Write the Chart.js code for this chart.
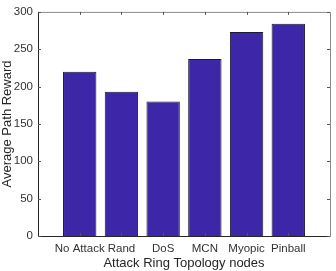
<!DOCTYPE html>
<html><head><meta charset="utf-8">
<script src="https://cdn.jsdelivr.net/npm/chart.js@4/dist/chart.umd.min.js"></script>
<style>html,body{margin:0;padding:0;background:#fff}#wrap{width:336px;height:271px}</style>
</head><body><div id="wrap"><canvas id="c" width="336" height="271"></canvas></div>
<script>
const categories = ['No Attack', 'Rand', 'DoS', 'MCN', 'Myopic', 'Pinball'];
const rewards = [220, 193, 180, 237, 273, 284];
const yTicks = [0, 50, 100, 150, 200, 250, 300];
const xTitle = 'Attack Ring Topology nodes';
const yTitle = 'Average Path Reward';

const FONT = 'Liberation Sans, Arial, Helvetica, sans-serif';
const boxPlugin = {
  id: 'box',
  afterDatasetsDraw(chart) {
    const {ctx, chartArea: a, scales: {x, y}} = chart;
    ctx.save();
    ctx.lineWidth = 1;
    ctx.strokeStyle = '#8a8a8a';
    ctx.beginPath();
    ctx.moveTo(a.left, a.top + 0.5); ctx.lineTo(a.right + 0.5, a.top + 0.5); ctx.lineTo(a.right + 0.5, a.bottom);
    ctx.stroke();
    ctx.strokeStyle = '#262626';
    ctx.beginPath();
    ctx.moveTo(a.left + 0.5, a.top); ctx.lineTo(a.left + 0.5, a.bottom + 0.5); ctx.lineTo(a.right + 0.5, a.bottom + 0.5);
    ctx.stroke();
    const L = 3;
    ctx.strokeStyle = '#555';
    ctx.beginPath();
    categories.forEach((c, i) => {
      const px = Math.round(x.getPixelForValue(i + 1)) + 0.5;
      ctx.moveTo(px, a.bottom); ctx.lineTo(px, a.bottom - L);
      ctx.moveTo(px, a.top); ctx.lineTo(px, a.top + L);
    });
    yTicks.forEach(v => {
      const py = Math.round(y.getPixelForValue(v)) + 0.5;
      ctx.moveTo(a.left, py); ctx.lineTo(a.left + L, py);
      ctx.moveTo(a.right, py); ctx.lineTo(a.right - L, py);
    });
    ctx.stroke();
    ctx.restore();
  }
};

new Chart(document.getElementById('c'), {
  type: 'bar',
  data: {
    datasets: [{
      data: rewards.map((v, i) => ({x: i + 1, y: v})),
      backgroundColor: '#3e26a8',
      borderColor: '#1a1a3a',
      borderWidth: 1,
      barPercentage: 0.8,
      categoryPercentage: 1.0
    }]
  },
  options: {
    responsive: false,
    animation: false,
    events: [],
    layout: {padding: {top: 9, right: 6, left: 0, bottom: 0}},
    plugins: {legend: {display: false}, tooltip: {enabled: false}},
    scales: {
      x: {
        type: 'linear', min: 0, max: 7, offset: false,
        afterBuildTicks: s => { s.ticks = categories.map((c, i) => ({value: i + 1})); },
        afterFit: s => { s.height = 35; },
        grid: {display: false, drawTicks: false},
        border: {display: false},
        ticks: {
          autoSkip: false, maxRotation: 0, padding: 6,
          color: '#333', font: {family: FONT, size: 11.5},
          callback: v => categories[v - 1] ?? ''
        },
        title: {display: true, text: xTitle, color: '#262626', font: {family: FONT, size: 13}, padding: {top: 1, bottom: 0}}
      },
      y: {
        min: 0, max: 300,
        afterBuildTicks: s => { s.ticks = yTicks.map(v => ({value: v})); },
        afterFit: s => { s.width = 38; },
        grid: {display: false, drawTicks: false},
        border: {display: false},
        ticks: {padding: 5, color: '#333', font: {family: FONT, size: 11.5}},
        title: {display: true, text: yTitle, color: '#262626', font: {family: FONT, size: 13}, padding: {top: 0, bottom: 0}}
      }
    }
  },
  plugins: [boxPlugin]
});
</script></body></html>
